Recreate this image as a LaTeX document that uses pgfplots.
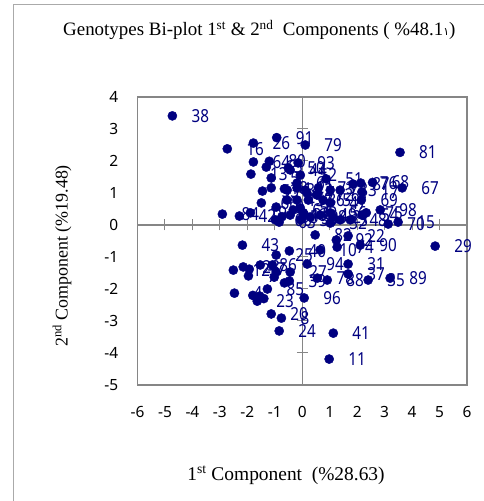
\documentclass[border=0pt]{standalone}
\usepackage{graphicx}
\usepackage{fontspec}
\setmainfont{Liberation Serif}
\newfontfamily\numfont{Noto Sans}
\newfontfamily\arabicfont{DejaVu Sans}
\usepackage{pgfplots}
\pgfplotsset{compat=1.18}
\definecolor{navy}{RGB}{0,0,128}
\definecolor{axgray}{RGB}{134,134,134}
\pgfplotstableread{
x y label
-4.73 3.41 38
-2.73 2.38 16
-1.78 2.56 26
-0.93 2.73 91
0.11 2.50 79
3.56 2.27 81
-1.78 1.97 64
-1.20 1.99 80
-1.31 1.81 65
-1.87 1.59 13
-0.51 1.78 50
-0.15 1.94 93
-1.13 1.47 5
-0.07 1.56 52
-0.44 1.72 44
-1.45 1.06 53
-1.13 1.16 18
-0.65 1.13 14
-0.55 1.09 34
-0.19 1.31 61
-0.19 1.16 1
0.11 1.09 2
-1.49 0.69 66
-0.95 0.56 9
-0.56 0.78 45
-0.19 0.78 57
-0.07 0.53 55
-2.91 0.34 84
-2.29 0.28 42
-1.89 0.38 19
-0.84 0.09 63
-0.98 0.16 60
-0.74 0.26 95
-0.44 0.31 46
0.00 0.22 33
-0.33 0.47 62
0.04 0.38 6
0.29 0.25 58
-0.07 0.16 30
0.17 1.00 71
0.53 0.94 72
0.59 1.16 73
0.22 0.78 36
0.76 0.78 59
1.02 0.69 47
0.87 1.44 51
1.02 1.09 77
1.38 1.09 83
1.85 1.28 87
2.13 1.31 76
2.17 1.03 17
2.15 0.78 69
2.56 1.33 68
3.64 1.16 67
2.84 0.47 98
2.33 0.38 75
3.13 0.03 70
3.49 0.09 15
0.65 0.31 49
1.02 0.38 56
1.13 0.25 21
1.38 0.16 3
1.75 0.16 48
1.02 0.06 32
2.17 0.31 54
4.84 -0.66 29
2.11 -0.63 90
0.47 -0.31 82
1.24 -0.47 92
1.67 -0.34 22
0.65 -0.78 10
1.27 -0.69 74
-0.47 -0.81 40
-0.95 -0.94 25
-2.18 -0.63 43
1.67 -1.22 31
0.18 -1.22 94
-0.44 -1.47 27
1.67 -1.53 37
2.40 -1.72 35
3.20 -1.66 89
0.55 -1.66 78
0.91 -1.72 88
-0.47 -1.75 39
0.07 -2.28 96
1.13 -3.38 41
0.98 -4.19 11
-0.84 -3.31 24
-1.13 -2.78 20
-0.76 -2.91 8
-2.47 -2.13 4
-1.64 -2.38 23
-1.27 -2.00 85
-2.51 -1.41 12
-2.15 -1.31 28
-1.93 -1.38 97
-1.96 -1.59 7
-1.53 -1.25 86
}\labeled
\pgfplotstableread{
x y
-1.09 -1.25
-0.95 -1.47
-1.02 -1.63
-0.65 -1.81
-1.55 -2.22
-1.40 -2.30
-1.80 -2.20
}\unlabeled
\begin{document}
\begin{tikzpicture}[x=1bp,y=1bp]
\path[use as bounding box] (0,0) rectangle (484,501);
\draw[axgray!70, line width=1bp] (13,-10) -- (13,496) -- (500,496);
\node[font=\fontsize{19}{23}\selectfont, anchor=west, inner sep=0pt] at (63,471) {Genotypes Bi-plot 1\textsuperscript{st} \& 2\textsuperscript{nd}\ \ Components ( \%48.1{\arabicfont\fontsize{11}{13}\selectfont ١})};
\begin{axis}[
  at={(137.5bp,116bp)}, anchor=south west,
  width=329.5bp, height=288bp, scale only axis,
  xmin=-6, xmax=6, ymin=-5, ymax=4,
  xtick={-6,...,6}, ytick={-5,...,4},
  major tick length=0pt,
  axis line style={axgray, line width=1.3bp},
  tick label style={font=\numfont\fontsize{15.5}{18}\selectfont},
  /pgf/number format/assume math mode=true,
  xticklabel style={anchor=north, inner sep=0pt, yshift=-21bp},
  yticklabel style={anchor=east, inner sep=0pt, xshift=-19bp},
  clip=false,
]
\draw[axgray, line width=1.3bp] (axis cs:-6,0) -- (axis cs:6,0);
\draw[axgray, line width=1.3bp] (axis cs:0,-5) -- (axis cs:0,4);
\pgfplotsinvokeforeach{-5,...,5}{\draw[axgray, line width=1bp] ([yshift=-5.5bp]axis cs:#1,0) -- ([yshift=5.5bp]axis cs:#1,0);}
\pgfplotsinvokeforeach{-4,...,3}{\draw[axgray, line width=1bp] ([xshift=-5.5bp]axis cs:0,#1) -- ([xshift=5.5bp]axis cs:0,#1);}
\addplot[only marks, mark=*, mark size=4.6bp, mark options={fill=navy, draw=navy}] table {\unlabeled};
\addplot[only marks, mark=*, mark size=4.6bp, mark options={fill=navy, draw=navy},
  point meta=explicit symbolic,
  nodes near coords={\scalebox{0.85}[1]{\pgfplotspointmeta}},
  nodes near coords style={anchor=west, inner sep=0pt, xshift=19bp, font=\numfont\fontsize{18}{20}\selectfont, text=navy}]
  table[meta=label] {\labeled};
\end{axis}
\node[font=\fontsize{19.5}{22}\selectfont] at (286,26) {1\textsuperscript{st} Component\ \ (\%28.63)};
\node[font=\fontsize{18}{21}\selectfont, rotate=90] at (62,245) {2\textsuperscript{nd}\ Component\ (\%19.48)};
\end{tikzpicture}
\end{document}
